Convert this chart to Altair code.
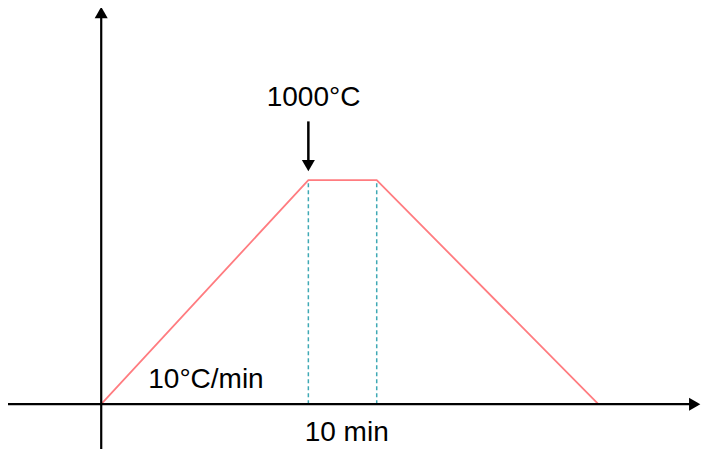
import altair as alt
import pandas as pd

# Temperature profile (schematic units: minutes, °C)
time_pts = [0, 100, 133, 240]
temp_pts = [0, 1000, 1000, 0]

# Hold-segment guide lines (dashed)
guide_times = [100, 133]
guide_top = 1000

# Axis extents
x_min, x_max = -45, 291
y_min, y_max = -200, 1768
x_axis_end = 285
y_axis_end = 1740

# Annotations
ann_text = ["1000°C", "10°C/min", "10 min"]
ann_x = [102.5, 22.7, 118.5]
ann_y = [1332, 72, -165]
ann_align = ["center", "left", "center"]

# Arrow pointing at the peak
arrow_x = 100
arrow_from = 1262
arrow_to = 1085

xs = alt.Scale(domain=[x_min, x_max], nice=False, zero=False)
ys = alt.Scale(domain=[y_min, y_max], nice=False, zero=False)

profile = pd.DataFrame({"t": time_pts, "T": temp_pts})
guides = pd.DataFrame({"t": guide_times, "y0": [0] * len(guide_times), "y1": [guide_top] * len(guide_times)})
xaxis = pd.DataFrame({"x0": [x_min], "x1": [x_axis_end], "y": [0]})
yaxis = pd.DataFrame({"x": [0], "y0": [y_min], "y1": [y_axis_end]})
heads = pd.DataFrame({"x": [x_axis_end + 1.5, 0, arrow_x],
                      "y": [0, y_axis_end + 8, arrow_to - 20],
                      "shape": ["triangle-right", "triangle-up", "triangle-down"]})
arrow = pd.DataFrame({"x": [arrow_x], "y0": [arrow_from], "y1": [arrow_to]})
ann = pd.DataFrame({"text": ann_text, "x": ann_x, "y": ann_y, "align": ann_align})

X = lambda f: alt.X(f, scale=xs, axis=None)
Y = lambda f: alt.Y(f, scale=ys, axis=None)

line = alt.Chart(profile).mark_line(color="#ff7c80", strokeWidth=1.8).encode(
    x=X("t:Q"), y=Y("T:Q"))

dashed = alt.Chart(guides).mark_rule(color="#3fa9b5", strokeWidth=1.5, strokeDash=[4, 3]).encode(
    x=X("t:Q"), y=Y("y0:Q"), y2="y1:Q")

xa = alt.Chart(xaxis).mark_rule(color="black", strokeWidth=2.2).encode(
    x=X("x0:Q"), x2="x1:Q", y=Y("y:Q"))
ya = alt.Chart(yaxis).mark_rule(color="black", strokeWidth=2.2).encode(
    x=X("x:Q"), y=Y("y0:Q"), y2="y1:Q")
ar = alt.Chart(arrow).mark_rule(color="black", strokeWidth=2.5).encode(
    x=X("x:Q"), y=Y("y0:Q"), y2="y1:Q")

hd = alt.Chart(heads).mark_point(filled=True, color="black", opacity=1, size=170).encode(
    x=X("x:Q"), y=Y("y:Q"),
    shape=alt.Shape("shape:N", scale=None, legend=None))

texts = []
for al in ["left", "center"]:
    texts.append(
        alt.Chart(ann).transform_filter(alt.datum.align == al).mark_text(
            font="Liberation Sans", fontSize=28, color="black", align=al, baseline="alphabetic"
        ).encode(x=X("x:Q"), y=Y("y:Q"), text="text:N")
    )

chart = alt.layer(dashed, line, xa, ya, ar, hd, *texts).properties(
    width=696, height=441, padding=0, autosize=alt.AutoSizeParams(type="none")
).configure_view(stroke=None)

chart.save("out.html", embed_options={"renderer": "svg", "actions": False})
